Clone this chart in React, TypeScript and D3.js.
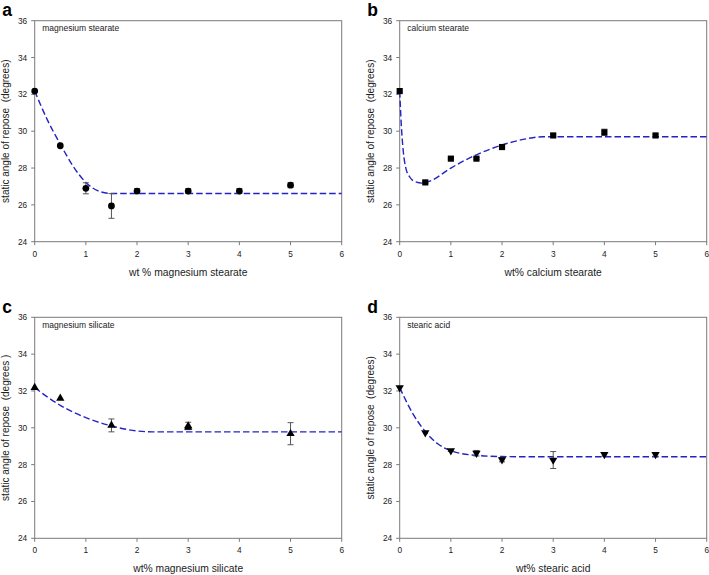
import React from "react";
import * as d3 from "d3";

const xTicks = [0, 1, 2, 3, 4, 5, 6];
const yTicks = [24, 26, 28, 30, 32, 34, 36];

// a: magnesium stearate
const aX = [0, 0.5, 1, 1.5, 2, 3, 4, 5];
const aY = [32.18, 29.21, 26.9, 25.94, 26.75, 26.75, 26.75, 27.07];
const aErr = [0, 0, 0.3, 0.67, 0.13, 0.13, 0.13, 0.13];
const aFitX = [0, 0.25, 0.5, 0.75, 1.0, 1.25, 1.5, 6];
const aFitY = [32.18, 30.6, 29.3, 28.1, 27.22, 26.75, 26.62, 26.62];

// b: calcium stearate
const bX = [0, 0.5, 1, 1.5, 2, 3, 4, 5];
const bY = [32.18, 27.22, 28.51, 28.51, 29.14, 29.77, 29.94, 29.77];
const bErr = [0, 0.05, 0.05, 0.05, 0.05, 0.06, 0.17, 0.06];
const bFitX = [0, 0.03, 0.07, 0.12, 0.2, 0.3, 0.45, 0.6, 1.0, 1.5, 2.0, 2.5, 2.8, 6];
const bFitY = [32.18, 30.4, 28.9, 28.0, 27.5, 27.26, 27.18, 27.3, 28.0, 28.72, 29.25, 29.6, 29.7, 29.7];

// c: magnesium silicate
const cX = [0, 0.5, 1.5, 3, 3, 5];
const cY = [32.18, 31.6, 30.13, 30.02, 30.1, 29.68];
const cErr = [0, 0, 0.35, 0, 0.2, 0.6];
const cFitX = [0, 0.5, 1.0, 1.5, 2.0, 2.3, 6];
const cFitY = [32.18, 31.22, 30.55, 30.1, 29.83, 29.78, 29.78];

// d: stearic acid
const dX = [0, 0.5, 1, 1.5, 2, 3, 4, 5];
const dY = [32.18, 29.74, 28.76, 28.62, 28.27, 28.25, 28.56, 28.56];
const dErr = [0, 0, 0.05, 0.15, 0.12, 0.46, 0.1, 0.1];
const dFitX = [0, 0.25, 0.5, 0.75, 1.0, 1.5, 2.0, 2.5, 6];
const dFitY = [32.18, 30.8, 29.8, 29.12, 28.76, 28.5, 28.44, 28.43, 28.43];

const FONT = "Arial, 'Liberation Sans', Helvetica, sans-serif";
const AXIS = "#7a7a7a";
const TEXT = "#222";

type PanelProps = {
  left: number;
  top: number;
  letter: string;
  inset: string;
  xLabel: string;
  yLabel: string;
  xs: number[];
  ys: number[];
  errs: number[];
  fitX: number[];
  fitY: number[];
  marker: "circle" | "square" | "tri" | "tridown";
};

function Panel(p: PanelProps) {
  const W = 307;
  const H = 221;
  const x = d3.scaleLinear().domain([0, 6]).range([p.left, p.left + W]);
  const y = d3.scaleLinear().domain([24, 36]).range([p.top + H, p.top]);
  const fitPts = p.fitX.map((v, i) => [v, p.fitY[i]] as [number, number]);
  const line = d3
    .line<[number, number]>()
    .x((d) => x(d[0]))
    .y((d) => y(d[1]))
    .curve(d3.curveMonotoneX);
  const symType =
    p.marker === "circle"
      ? d3.symbolCircle
      : p.marker === "square"
      ? d3.symbolSquare
      : d3.symbolTriangle;
  const symSize = p.marker === "circle" ? 36 : p.marker === "square" ? 38 : 30;
  const sym = d3.symbol().type(symType).size(symSize)() as string;
  const labelX = p.left - 25.5;
  return (
    <g>
      <text
        x={p.left - 32.5}
        y={p.top - 4.8}
        fontFamily={FONT}
        fontWeight="bold"
        fontSize={17.5}
        fill="#000"
      >
        {p.letter}
      </text>
      {/* frame */}
      <rect x={p.left} y={p.top} width={W} height={H} fill="none" stroke={AXIS} strokeWidth={1} />
      {/* ticks */}
      {xTicks.map((t) => (
        <g key={"x" + t}>
          <line x1={x(t)} x2={x(t)} y1={p.top + H} y2={p.top + H + 3.5} stroke={AXIS} />
          <text
            x={x(t)}
            y={p.top + H + 15}
            textAnchor="middle"
            fontFamily={FONT}
            fontSize={8.3}
            fill={TEXT}
          >
            {t}
          </text>
        </g>
      ))}
      {yTicks.map((t) => (
        <g key={"y" + t}>
          <line x1={p.left - 3.5} x2={p.left} y1={y(t)} y2={y(t)} stroke={AXIS} />
          <text
            x={p.left - 7.5}
            y={y(t) + 3}
            textAnchor="end"
            fontFamily={FONT}
            fontSize={8.3}
            fill={TEXT}
          >
            {t}
          </text>
        </g>
      ))}
      <text x={p.left + 7.5} y={p.top + 10.5} fontFamily={FONT} fontSize={8.5} fill={TEXT}>
        {p.inset}
      </text>
      <text
        x={p.left + W / 2}
        y={p.top + H + 34}
        textAnchor="middle"
        fontFamily={FONT}
        fontSize={10.3}
        fill={TEXT}
        style={{ whiteSpace: "pre" }}
      >
        {p.xLabel}
      </text>
      <text
        transform={`translate(${labelX},${p.top + H / 2}) rotate(-90)`}
        textAnchor="middle"
        fontFamily={FONT}
        fontSize={10}
        fill={TEXT}
        style={{ whiteSpace: "pre" }}
      >
        {p.yLabel}
      </text>
      {/* fit */}
      <path
        d={line(fitPts) as string}
        fill="none"
        stroke="#2323c8"
        strokeWidth={1.4}
        strokeDasharray="6.5 3"
      />
      {/* error bars */}
      {p.xs.map((v, i) =>
        p.errs[i] > 0 ? (
          <g key={"e" + i} stroke="#555" strokeWidth={1}>
            <line x1={x(v)} x2={x(v)} y1={y(p.ys[i] - p.errs[i])} y2={y(p.ys[i] + p.errs[i])} />
            <line x1={x(v) - 3} x2={x(v) + 3} y1={y(p.ys[i] - p.errs[i])} y2={y(p.ys[i] - p.errs[i])} />
            <line x1={x(v) - 3} x2={x(v) + 3} y1={y(p.ys[i] + p.errs[i])} y2={y(p.ys[i] + p.errs[i])} />
          </g>
        ) : null
      )}
      {/* markers */}
      {p.xs.map((v, i) => (
        <path
          key={"m" + i}
          d={sym}
          transform={`translate(${x(v)},${y(p.ys[i])})${p.marker === "tridown" ? " rotate(180)" : ""}`}
          fill="#000"
        />
      ))}
    </g>
  );
}

export default function App() {
  return (
    <svg
      width={709}
      height={575}
      style={{ position: "absolute", left: 0, top: 0, background: "#fff" }}
    >
      <rect width={709} height={575} fill="#fff" />
      <Panel
        left={34.7}
        top={20.7}
        letter="a"
        inset="magnesium stearate"
        xLabel="wt % magnesium stearate"
        yLabel="static angle of repose  (degrees)"
        xs={aX}
        ys={aY}
        errs={aErr}
        fitX={aFitX}
        fitY={aFitY}
        marker="circle"
      />
      <Panel
        left={399.7}
        top={20.7}
        letter="b"
        inset="calcium stearate"
        xLabel="wt% calcium stearate"
        yLabel="static angle of repose  (degrees)"
        xs={bX}
        ys={bY}
        errs={bErr}
        fitX={bFitX}
        fitY={bFitY}
        marker="square"
      />
      <Panel
        left={34.7}
        top={317.3}
        letter="c"
        inset="magnesium silicate"
        xLabel="wt% magnesium silicate"
        yLabel="static angle of repose  (degrees )"
        xs={cX}
        ys={cY}
        errs={cErr}
        fitX={cFitX}
        fitY={cFitY}
        marker="tri"
      />
      <Panel
        left={399.7}
        top={317.3}
        letter="d"
        inset="stearic acid"
        xLabel="wt% stearic acid"
        yLabel="static angle of repose  (degrees)"
        xs={dX}
        ys={dY}
        errs={dErr}
        fitX={dFitX}
        fitY={dFitY}
        marker="tridown"
      />
    </svg>
  );
}
